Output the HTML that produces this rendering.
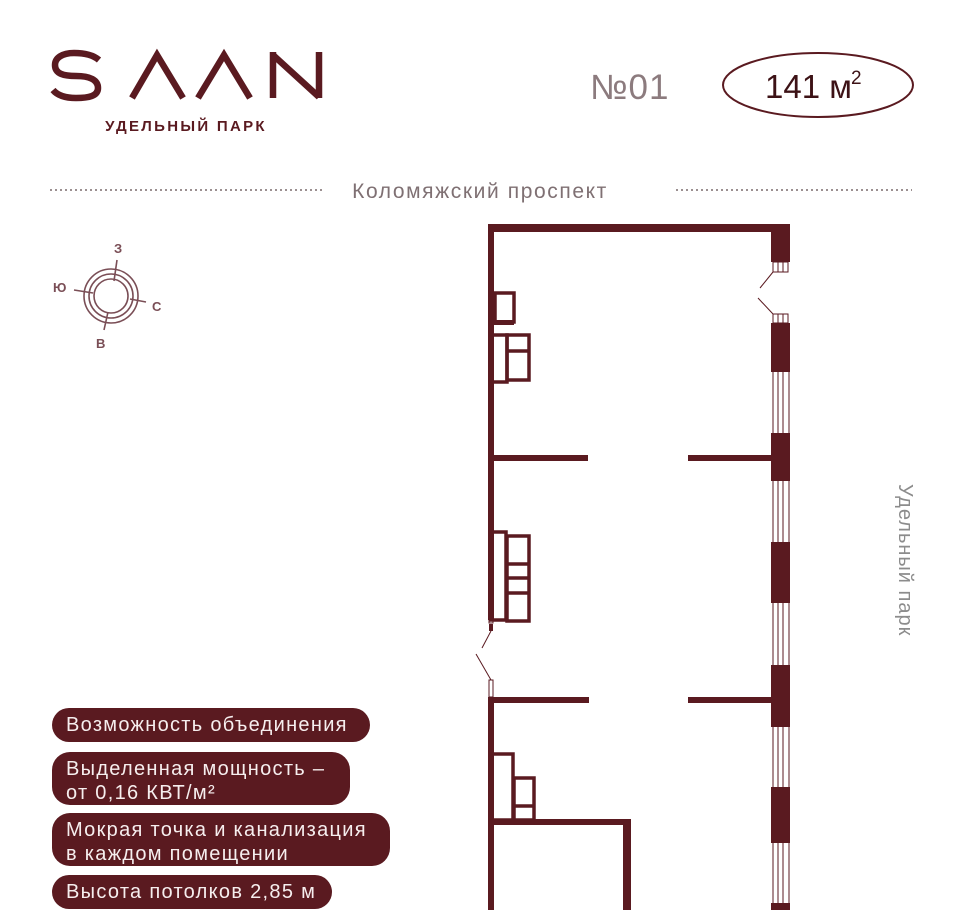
<!DOCTYPE html>
<html><head><meta charset="utf-8"><style>
html,body{margin:0;padding:0;background:#fff;}
body{width:960px;height:910px;overflow:hidden;position:relative;font-family:"Liberation Sans","DejaVu Sans",sans-serif;}
svg{position:absolute;left:0;top:0;}
.pill{position:absolute;left:52px;background:#5a1a20;color:#f6eeee;border-radius:18px;font-size:20px;line-height:24px;padding:5px 14px;box-sizing:border-box;letter-spacing:1.3px;white-space:nowrap;}
</style></head><body>
<svg width="960" height="910" viewBox="0 0 960 910">
<g fill="none" stroke="#5a1a20" stroke-width="6.5" stroke-linecap="butt" stroke-linejoin="miter">
<path d="M99,60 C92,54 82,53 74,53 C62,53 55,58 55,65 C55,74 64,76 76,76 C90,76 98,80 98,88 C98,96 89,98 76,98 C66,98 58,96 53,90"/>
<polyline points="132,98 157,55 183,98"/>
<polyline points="198,98 224,55 250,98"/>
<line x1="273" y1="98" x2="273" y2="52"/>
<line x1="273" y1="55" x2="319" y2="97"/>
<line x1="319" y1="98" x2="319" y2="52"/>
</g>
<text x="186" y="131" text-anchor="middle" font-family="Liberation Sans" font-weight="bold" font-size="15" letter-spacing="2.3" fill="#5a1a20">УДЕЛЬНЫЙ ПАРК</text>
<text x="590" y="99" font-family="Liberation Sans" font-size="35" fill="#8c7b7e" letter-spacing="1">№01</text>
<ellipse cx="818" cy="85" rx="95" ry="32" fill="none" stroke="#5a1a20" stroke-width="2"/>
<text x="765" y="98" font-family="Liberation Sans" font-size="33" fill="#3d1216">141 м</text>
<text x="851" y="84" font-family="Liberation Sans" font-size="19" fill="#3d1216">2</text>
<line x1="50" y1="190" x2="322" y2="190" stroke="#7a6a6c" stroke-width="1.5" stroke-dasharray="2,3"/>
<line x1="676" y1="190" x2="912" y2="190" stroke="#7a6a6c" stroke-width="1.5" stroke-dasharray="2,3"/>
<text x="480" y="198" text-anchor="middle" font-family="Liberation Sans" font-size="21" fill="#7f7073" letter-spacing="1.6">Коломяжский проспект</text>
<text transform="translate(899,484) rotate(90)" font-family="Liberation Sans" font-size="20" fill="#8c8c8c" letter-spacing="1">Удельный парк</text>
<g stroke="#7a4e56" stroke-width="1.6" fill="none">
<circle cx="111" cy="296" r="17"/><circle cx="111" cy="296" r="22"/><circle cx="111" cy="296" r="27"/>
<line x1="117" y1="260" x2="114" y2="281"/>
<line x1="74" y1="290" x2="93" y2="293"/>
<line x1="130" y1="299" x2="146" y2="302"/>
<line x1="108" y1="312" x2="104" y2="330"/>
</g>
<g font-family="Liberation Sans" font-weight="bold" font-size="13" fill="#7a4e56">
<text x="114" y="253">З</text><text x="53" y="292">Ю</text><text x="152" y="311">С</text><text x="96" y="348">В</text>
</g>
<g fill="#5a1a20">
<rect x="488" y="224" width="302" height="8"/>
<rect x="488" y="224" width="6" height="396"/>
<rect x="488" y="697" width="6" height="213"/>
<rect x="771" y="224" width="19" height="38"/>
<rect x="771" y="323" width="19" height="49"/>
<rect x="771" y="433" width="19" height="48"/>
<rect x="771" y="542" width="19" height="61"/>
<rect x="771" y="665" width="19" height="62"/>
<rect x="771" y="787" width="19" height="56"/>
<rect x="771" y="903" width="19" height="7"/>
<rect x="494" y="455" width="94" height="6"/>
<rect x="688" y="455" width="83" height="6"/>
<rect x="490" y="697" width="99" height="6"/>
<rect x="688" y="697" width="83" height="6"/>
<rect x="490" y="819" width="141" height="6"/>
<rect x="623" y="819" width="8" height="91"/>
<rect x="494" y="320" width="20" height="5"/>
</g>
<g fill="none" stroke="#5a1a20" stroke-width="3.5">
<rect x="495" y="293" width="19" height="29"/>
<rect x="492" y="335" width="15" height="47"/>
<rect x="507" y="335" width="22" height="45"/>
<line x1="507" y1="351" x2="529" y2="351"/>
<rect x="491" y="532" width="15" height="88"/>
<rect x="507" y="536" width="22" height="85"/>
<line x1="507" y1="564" x2="529" y2="564"/>
<line x1="507" y1="578" x2="529" y2="578"/>
<line x1="507" y1="593" x2="529" y2="593"/>
<rect x="491" y="754" width="22" height="66"/>
<rect x="514" y="778" width="20" height="42"/>
<line x1="514" y1="806" x2="534" y2="806"/>
</g>
<g stroke="#5a1a20" stroke-width="1" fill="none">
<rect x="773" y="262" width="15" height="10"/><line x1="778" y1="262" x2="778" y2="272"/><line x1="783" y1="262" x2="783" y2="272"/>
<rect x="773" y="314" width="15" height="9"/><line x1="778" y1="314" x2="778" y2="323"/><line x1="783" y1="314" x2="783" y2="323"/>
<line x1="773" y1="272" x2="760" y2="288"/><line x1="758" y1="298" x2="773" y2="314"/>
<line x1="773" y1="372" x2="773" y2="903"/><line x1="778" y1="372" x2="778" y2="903"/><line x1="783" y1="372" x2="783" y2="903"/><line x1="789" y1="372" x2="789" y2="903"/>
<rect x="489" y="610" width="4" height="13"/>
<rect x="489" y="680" width="4" height="17"/>
<line x1="491" y1="631" x2="482" y2="648"/><line x1="476" y1="654" x2="491" y2="680"/>
</g>
<rect x="489" y="624" width="4" height="7" fill="#5a1a20"/>
</svg>
<div class="pill" style="top:708px;width:318px;height:34px;">Возможность объединения</div>
<div class="pill" style="top:752px;width:298px;height:53px;">Выделенная мощность –<br>от 0,16 КВТ/м²</div>
<div class="pill" style="top:813px;width:338px;height:53px;">Мокрая точка и канализация<br>в каждом помещении</div>
<div class="pill" style="top:875px;width:280px;height:34px;">Высота потолков 2,85 м</div>
</body></html>
